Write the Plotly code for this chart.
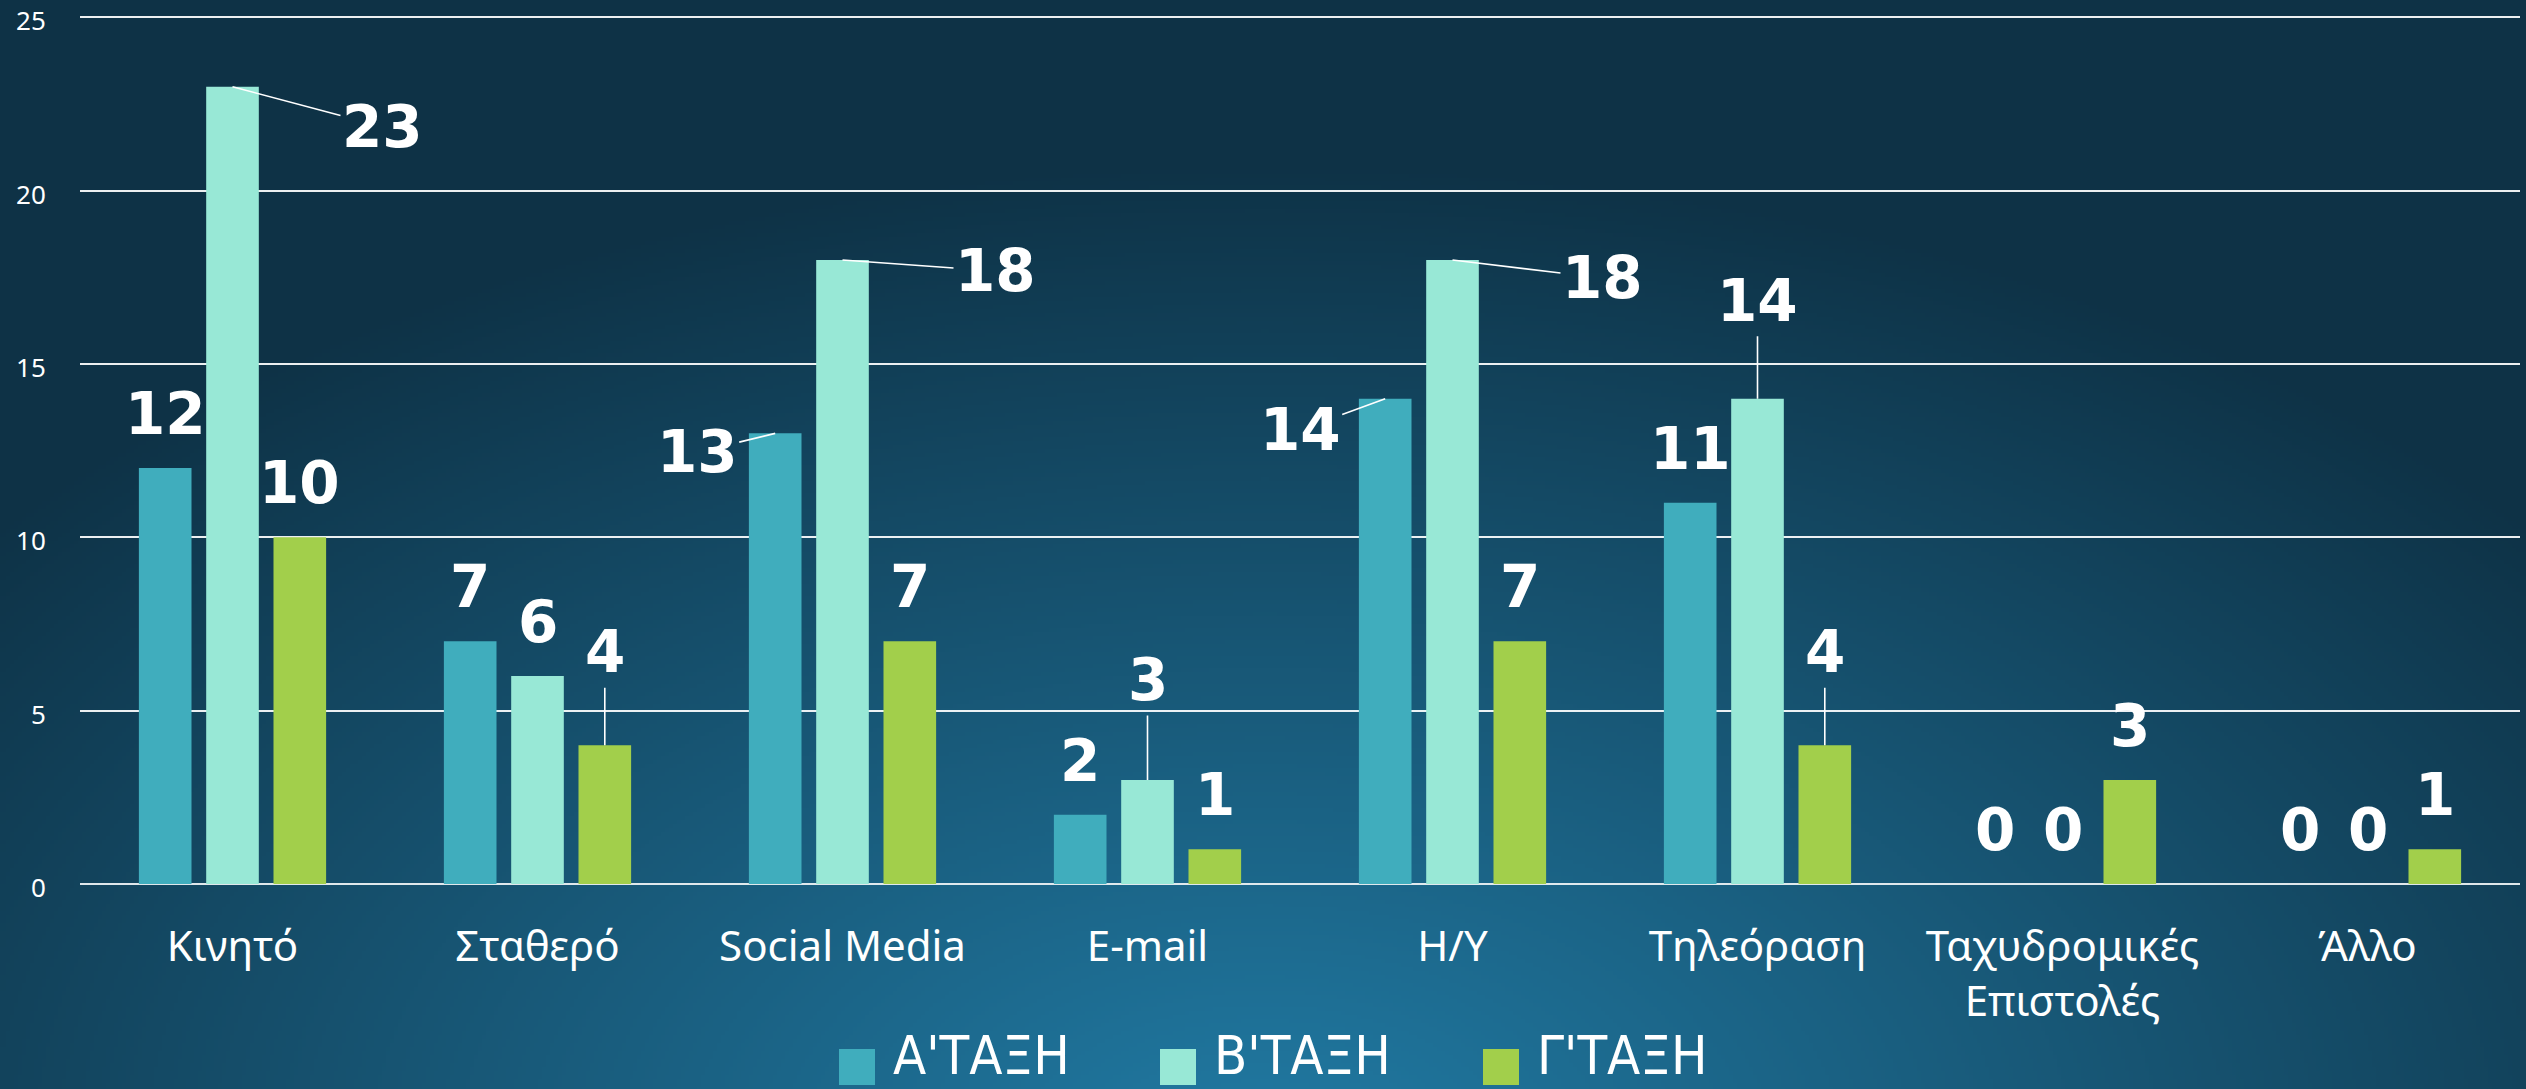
import base64, struct, zlib
import numpy as np
import plotly.graph_objects as go

# ---------------- data ----------------
categories = ["Κινητό", "Σταθερό", "Social Media", "E-mail", "Η/Υ", "Τηλεόραση",
              "Ταχυδρομικές<br>Επιστολές", "Άλλο"]
series_names = ["Α'ΤΑΞΗ", "Β'ΤΑΞΗ", "Γ'ΤΑΞΗ"]
values_a = [12, 7, 13, 2, 14, 11, 0, 0]
values_b = [23, 6, 18, 3, 18, 14, 0, 0]
values_c = [10, 4, 7, 1, 7, 4, 3, 1]
y_ticks = [0, 5, 10, 15, 20, 25]

# ---------------- style ----------------
colors = ["#40adbd", "#98e8d6", "#a2cf4b"]
W, H = 2526, 1089
L, R, T, B = 80, 6, 16, 205
PW, PH = W - L - R, H - T - B
Y_MAX = 25.04
BARGAP, GROUPGAP = 0.338, 0.218
LABEL_FONT = dict(family="DejaVu Sans, Open Sans, sans-serif", size=58, color="white", weight="bold")
TEXT_FONT = "Noto Sans, Open Sans, sans-serif"
LEGEND_FONT = "Liberation Sans Narrow, DejaVu Sans Condensed, Roboto Condensed, Noto Sans, sans-serif"

# leader-line offsets (pixels) for some labels: (series, category) -> (ax, ay)
leaders = {(1, 0): (150, 40), (0, 2): (-78, 19), (1, 2): (153, 11), (0, 4): (-85, 31),
           (1, 4): (150, 18), (2, 1): (0, -93), (1, 3): (0, -100), (1, 5): (0, -98),
           (2, 5): (0, -93)}


# ---------------- background gradient as png ----------------
def make_png(arr):
    h, w, _ = arr.shape
    raw = b"".join(b"\x00" + arr[i].tobytes() for i in range(h))

    def chunk(tag, data):
        c = struct.pack(">I", len(data)) + tag + data
        return c + struct.pack(">I", zlib.crc32(tag + data) & 0xFFFFFFFF)

    return (b"\x89PNG\r\n\x1a\n" + chunk(b"IHDR", struct.pack(">IIBBBBB", w, h, 8, 2, 0, 0, 0))
            + chunk(b"IDAT", zlib.compress(raw, 9)) + chunk(b"IEND", b""))


gw, gh = 632, 273
yy, xx = np.mgrid[0:gh, 0:gw].astype(float)
xx = xx / gw * W
yy = yy / gh * H
cx, cy = 0.5 * W, 1.06 * H
t = np.sqrt(((xx - cx) / 1650.0) ** 2 + ((yy - cy) / 1000.0) ** 2)
t = np.clip(t, 0, 1) ** 1.05
light = np.array([33, 122, 163], float)
dark = np.array([14, 50, 70], float)
img = (light[None, None, :] * (1 - t[..., None]) + dark[None, None, :] * t[..., None])
img = np.clip(img, 0, 255).astype(np.uint8)
bg_src = "data:image/png;base64," + base64.b64encode(make_png(img)).decode()

# ---------------- figure ----------------
fig = go.Figure()
all_vals = [values_a, values_b, values_c]
for name, vals, col in zip(series_names, all_vals, colors):
    fig.add_trace(go.Bar(x=categories, y=vals, name=name, marker=dict(color=col, line=dict(width=0)),
                         showlegend=False, hoverinfo="x+y+name"))

slot = (1 - BARGAP) / 3
annotations = []
for s, vals in enumerate(all_vals):
    for i, v in enumerate(vals):
        xpos = i + (s - 1) * slot
        if (s, i) in leaders:
            ax, ay = leaders[(s, i)]
            annotations.append(dict(x=xpos, y=v, xref="x", yref="y", text=str(v), font=LABEL_FONT,
                                    showarrow=True, arrowhead=0, arrowwidth=1.6, arrowcolor="white",
                                    ax=ax, ay=ay, standoff=0))
        else:
            annotations.append(dict(x=xpos, y=v, xref="x", yref="y", text=str(v), font=LABEL_FONT,
                                    showarrow=False, yanchor="middle", yshift=54))

# manual legend (large swatches)
leg_sw = 36
leg_x0 = [839, 1160, 1483]
leg_cy = 1067
leg_text_cy = 1055
shapes = []
for k, (name, col) in enumerate(zip(series_names, colors)):
    x0 = leg_x0[k]
    shapes.append(dict(type="rect", xref="paper", yref="paper",
                       x0=(x0 - L) / PW, x1=(x0 + leg_sw - L) / PW,
                       y0=(H - B - (leg_cy + leg_sw / 2)) / PH, y1=(H - B - (leg_cy - leg_sw / 2)) / PH,
                       fillcolor=col, line=dict(width=0)))
    annotations.append(dict(x=(x0 + leg_sw + 16 - L) / PW, y=(H - B - leg_text_cy) / PH,
                            xref="paper", yref="paper",
                            text=name, showarrow=False, xanchor="left", yanchor="middle",
                            font=dict(family=LEGEND_FONT, size=54, color="white")))

fig.update_layout(
    width=W, height=H,
    margin=dict(l=L, r=R, t=T, b=B, pad=0),
    barmode="group", bargap=BARGAP, bargroupgap=GROUPGAP,
    paper_bgcolor="#123e55", plot_bgcolor="rgba(0,0,0,0)",
    images=[dict(source=bg_src, xref="paper", yref="paper", x=-L / PW, y=1 + T / PH,
                 sizex=W / PW, sizey=H / PH, xanchor="left", yanchor="top",
                 sizing="stretch", layer="below")],
    annotations=annotations, shapes=shapes,
    showlegend=False,
    font=dict(family=TEXT_FONT, color="white"),
)
fig.update_xaxes(type="category", showgrid=False, showline=False, zeroline=False, automargin=False,
                 ticks="outside", ticklen=26, tickcolor="rgba(0,0,0,0)",
                 tickfont=dict(family=TEXT_FONT, size=42, color="white"))
fig.update_yaxes(range=[0, Y_MAX], tickvals=y_ticks, showgrid=True, automargin=False,
                 gridcolor="rgba(255,255,255,0.92)", gridwidth=1.5,
                 zeroline=True, zerolinecolor="rgba(235,240,242,0.95)", zerolinewidth=2,
                 showline=False, ticks="outside", ticklen=28, tickcolor="rgba(0,0,0,0)",
                 ticklabeloverflow="allow", ticklabelshift=4,
                 tickfont=dict(family=TEXT_FONT, size=26, color="white"))

fig.write_html("out.html", config={"displayModeBar": False}, post_script=(
    "document.documentElement.style.margin='0';document.body.style.margin='0';"
    "document.body.style.overflow='hidden';"))
